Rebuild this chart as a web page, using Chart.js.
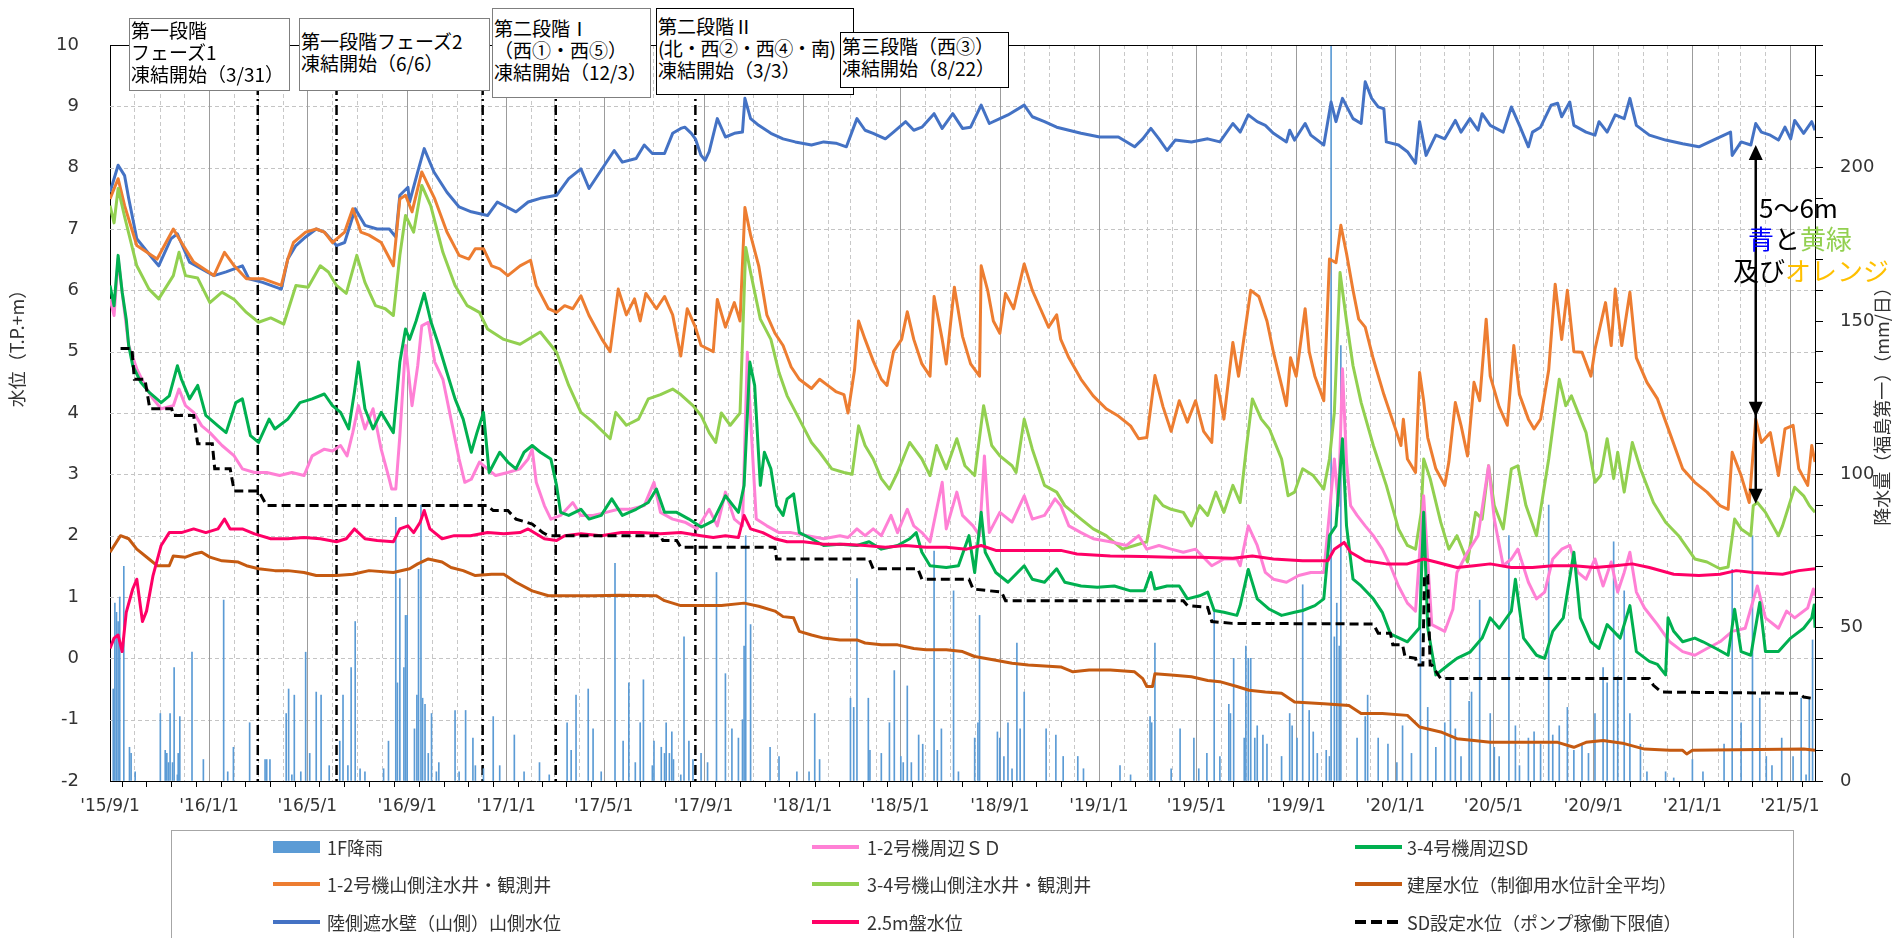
<!DOCTYPE html>
<html lang="ja">
<head>
<meta charset="utf-8">
<title>水位の推移</title>
<script src="https://cdn.jsdelivr.net/npm/chart.js@4.4.1/dist/chart.umd.min.js"></script>
<style>
  html, body { margin: 0; padding: 0; background: #fff; }
  #wrap { position: relative; width: 1893px; height: 938px; overflow: hidden;
          font-family: "Noto Sans CJK JP", "Noto Sans", sans-serif; color: #000; }
  #chartBox { position: absolute; left: 0; top: 0; width: 1893px; height: 938px; }
  .note { position: absolute; box-sizing: border-box; background: #fff; border: 1px solid #7f7f7f;
          font-size: 19px; line-height: 22px; white-space: nowrap; padding-left: 1px; }
  .note.dark { border-color: #000; }
  .tight { letter-spacing: -0.6px; }
  .gap { position: absolute; font-size: 26px; line-height: 32px; white-space: nowrap; }
  #legendBox { position: absolute; left: 171px; top: 830px; width: 1623px; height: 120px;
               box-sizing: border-box; border: 1px solid #a6a6a6; }
  .lg-sw { position: absolute; width: 47px; }
  .lg-tx { position: absolute; font-size: 18px; line-height: 24px; white-space: nowrap; color: #333; }
</style>
</head>
<body>
<div id="wrap">
  <div id="chartBox"><canvas id="levelChart"></canvas></div>

  <div class="note" style="left:129px;top:18px;width:161px;height:73px;">第一段階<br>フェーズ1<br>凍結開始（3/31）</div>
  <div class="note" style="left:299px;top:18px;width:191px;height:73px;padding-top:11px;">第一段階フェーズ2<br>凍結開始（6/6）</div>
  <div class="note" style="left:492px;top:8px;width:159px;height:90px;padding-top:8px;">第二段階Ⅰ<br>（西①・西⑤）<br>凍結開始（12/3）</div>
  <div class="note dark" style="left:656px;top:8px;width:198px;height:87px;padding-top:6px;">第二段階Ⅱ<br><span class="tight">(北・西②・西④・南)</span><br>凍結開始（3/3）</div>
  <div class="note dark" style="left:840px;top:32px;width:169px;height:56px;padding-top:2px;">第三段階（西③）<br>凍結開始（8/22）</div>

  <div class="gap" style="left:1759px;top:191px;">5～6m</div>
  <div class="gap" style="left:1748px;top:222px;"><span style="color:#0000ff">青</span>と<span style="color:#92d050">黄緑</span></div>
  <div class="gap" style="left:1733px;top:254px;">及び<span style="color:#ffc000">オレンジ</span></div>

  <div id="legendBox"></div>
</div>

<script>
// ======== Data (x = days since 2015/9/1) ========
const dayMax = 2100;
const levelTicks = [-2, -1, 0, 1, 2, 3, 4, 5, 6, 7, 8, 9, 10];
const rainTicks = [0, 10, 20, 30, 40, 50, 60, 70, 80, 90, 100, 110, 120, 130, 140, 150, 160, 170, 180, 190, 200, 210, 220, 230, 240];
const labelMonths = [1, 5, 9];
const freezeDays = [182, 279, 459, 549, 721];
const arrowDay = 2027;
const arrowLevels = [8.37, 3.94, 2.52];

const rain = [[4,30],[6,58],[8,55],[10,52],[12,60],[17,70],[24,11],[26,9],[31,3],[62,22],[68,10],[70,9],[72,6],[74,22],[77,6],[79,37],[83,2],[84,9],[86,21],[101,42],[115,7],[140,59],[145,3],[152,11],[172,19],[191,7],[193,7],[197,7],[217,22],[220,30],[224,2],[227,28],[235,3],[241,42],[246,9],[254,29],[260,28],[270,5],[283,13],[287,28],[293,5],[297,37],[302,52],[308,4],[314,3],[337,4],[343,13],[352,86],[354,32],[357,66],[362,37],[364,54],[366,54],[375,17],[378,28],[380,69],[383,90],[385,27],[388,25],[392,9],[396,22],[402,3],[405,6],[425,23],[430,3],[438,23],[447,14],[450,5],[460,4],[472,21],[480,5],[498,15],[510,3],[529,6],[541,2],[563,19],[568,10],[574,28],[589,30],[595,17],[605,3],[622,71],[632,13],[639,32],[647,6],[653,19],[657,33],[668,5],[670,13],[679,11],[683,9],[685,19],[689,9],[692,16],[694,7],[703,2],[707,47],[713,13],[718,7],[728,9],[736,6],[747,68],[758,35],[766,17],[774,14],[779,20],[781,44],[783,80],[789,51],[813,11],[824,8],[846,3],[861,3],[868,22],[874,7],[912,27],[916,24],[920,66],[934,27],[936,10],[950,9],[960,19],[966,36],[974,8],[977,6],[982,31],[987,6],[996,15],[1001,12],[1015,75],[1019,10],[1024,17],[1039,62],[1045,3],[1065,14],[1069,19],[1071,54],[1093,16],[1096,14],[1101,8],[1106,19],[1111,4],[1117,45],[1121,17],[1126,29],[1153,17],[1165,15],[1174,8],[1192,8],[1199,4],[1244,5],[1257,2],[1281,21],[1283,19],[1287,45],[1307,4],[1318,17],[1335,14],[1341,4],[1351,9],[1360,55],[1367,8],[1378,25],[1380,22],[1384,40],[1397,14],[1399,44],[1402,40],[1405,40],[1410,14],[1413,18],[1420,15],[1425,12],[1443,8],[1453,22],[1456,18],[1462,14],[1469,64],[1477,23],[1482,16],[1487,9],[1498,10],[1502,8],[1504,240],[1508,47],[1511,58],[1514,44],[1516,142],[1536,14],[1546,21],[1549,28],[1562,14],[1574,12],[1585,6],[1592,18],[1603,9],[1614,76],[1623,24],[1633,11],[1644,19],[1651,33],[1657,17],[1664,8],[1674,26],[1677,29],[1687,59],[1700,22],[1705,11],[1711,8],[1723,80],[1731,18],[1736,5],[1747,14],[1754,16],[1762,12],[1772,90],[1777,15],[1785,18],[1795,24],[1803,10],[1813,12],[1821,9],[1829,22],[1839,37],[1844,32],[1852,78],[1857,34],[1865,62],[1872,22],[1885,12],[1893,3],[1916,3],[1926,1],[1949,7],[1962,3],[1988,12],[1998,69],[2009,19],[2023,80],[2032,27],[2040,8],[2047,5],[2059,14],[2073,8],[2083,27],[2089,2],[2093,27],[2097,46]];

const sd12 = [[0,5.86],[5,5.59],[10,6.51],[23,5.1],[33,4.72],[43,4.45],[53,4.23],[63,4.07],[78,4.12],[85,4.39],[93,4.12],[103,4.01],[113,3.79],[123,3.68],[138,3.47],[153,3.3],[163,3.09],[178,3.03],[193,3.03],[209,2.98],[224,3.03],[239,2.98],[249,3.3],[264,3.41],[274,3.38],[284,3.47],[292,3.3],[299,3.68],[306,4.12],[314,3.74],[324,4.07],[334,3.41],[344,2.92],[347,2.76],[352,2.76],[357,3.63],[364,5.1],[372,4.12],[379,4.77],[384,5.42],[392,5.48],[400,4.83],[410,4.55],[420,3.9],[430,3.25],[437,2.87],[445,2.92],[455,3.2],[465,3.09],[475,2.98],[490,3.03],[505,3.09],[515,3.25],[520,3.41],[525,2.87],[535,2.49],[543,2.27],[555,2.33],[570,2.54],[580,2.33],[595,2.33],[611,2.38],[626,2.43],[641,2.43],[658,2.49],[670,2.87],[678,2.38],[693,2.27],[708,2.22],[723,2.11],[738,2.43],[748,2.16],[758,2.71],[769,2.27],[779,2.16],[785,4.99],[789,3.9],[796,2.27],[809,2.16],[824,2.05],[839,2.05],[859,2.0],[879,1.95],[899,2.0],[909,1.97],[920,2.11],[930,2.0],[940,2.11],[950,2.0],[962,2.33],[970,2.05],[982,2.43],[990,2.16],[1000,2.05],[1010,1.9],[1025,2.87],[1030,2.11],[1043,2.71],[1050,2.33],[1063,2.16],[1071,2.0],[1077,3.3],[1083,2.05],[1096,2.38],[1111,2.22],[1126,2.65],[1136,2.27],[1151,2.33],[1164,2.6],[1171,2.49],[1181,2.16],[1196,2.05],[1211,1.95],[1232,1.9],[1252,1.84],[1267,2.0],[1277,1.78],[1292,1.84],[1307,1.78],[1322,1.73],[1337,1.78],[1357,1.51],[1372,1.62],[1388,1.62],[1392,1.51],[1402,2.16],[1413,1.84],[1423,1.4],[1433,1.29],[1449,1.24],[1464,1.35],[1479,1.4],[1495,1.4],[1502,2.38],[1508,3.25],[1513,2.49],[1518,4.72],[1523,3.2],[1528,2.49],[1536,2.33],[1546,2.16],[1556,2.0],[1567,1.78],[1577,1.51],[1587,1.18],[1598,0.9],[1608,0.77],[1618,2.65],[1628,0.55],[1644,0.44],[1654,0.8],[1659,1.4],[1672,1.73],[1685,2.0],[1698,3.14],[1705,2.27],[1716,1.51],[1726,1.62],[1734,1.78],[1747,1.24],[1757,0.97],[1767,1.08],[1777,1.62],[1788,1.78],[1798,1.84],[1808,1.4],[1818,1.29],[1829,1.62],[1839,1.18],[1849,1.57],[1857,1.08],[1865,1.4],[1872,1.73],[1880,1.08],[1890,0.82],[1906,0.55],[1921,0.27],[1937,0.11],[1952,0.05],[1967,0.16],[1983,0.27],[1998,0.44],[2014,0.49],[2029,1.18],[2039,0.66],[2055,0.49],[2065,0.77],[2075,0.66],[2091,0.82],[2098,1.13],[2100,1.02]];

const sd34 = [[0,6.08],[5,5.75],[10,6.57],[15,5.97],[20,5.53],[23,5.1],[28,4.77],[38,4.5],[48,4.34],[63,4.17],[73,4.28],[83,4.77],[88,4.55],[98,4.23],[108,4.45],[118,3.96],[133,3.79],[143,3.68],[155,4.17],[163,4.23],[173,3.63],[183,3.52],[196,3.9],[203,3.74],[219,3.9],[234,4.17],[249,4.23],[264,4.31],[274,4.12],[284,4.01],[294,3.74],[301,4.34],[306,4.83],[314,4.07],[324,3.74],[334,4.01],[349,3.68],[357,4.83],[364,5.37],[369,5.2],[377,5.5],[387,5.95],[395,5.5],[405,5.1],[415,4.66],[425,4.23],[435,3.9],[445,3.36],[452,3.68],[460,4.01],[467,3.03],[480,3.36],[490,3.2],[500,3.09],[510,3.36],[520,3.47],[530,3.36],[543,3.25],[550,2.82],[555,2.38],[565,2.33],[580,2.43],[590,2.27],[605,2.33],[618,2.6],[631,2.33],[648,2.43],[663,2.54],[673,2.76],[683,2.38],[698,2.38],[713,2.27],[728,2.14],[743,2.24],[758,2.65],[774,2.38],[781,2.82],[788,4.83],[794,4.45],[801,2.82],[806,3.36],[814,3.09],[821,2.49],[829,2.33],[834,2.6],[842,2.68],[849,2.05],[864,1.95],[879,1.84],[899,1.86],[920,1.84],[935,1.9],[950,1.78],[970,1.84],[985,1.95],[993,2.05],[1000,1.73],[1010,1.51],[1030,1.48],[1045,1.51],[1058,2.0],[1065,1.4],[1073,2.38],[1078,1.73],[1091,1.4],[1106,1.24],[1126,1.51],[1136,1.29],[1151,1.24],[1166,1.46],[1176,1.24],[1196,1.18],[1216,1.16],[1237,1.18],[1257,1.1],[1274,1.1],[1282,1.4],[1287,1.13],[1302,1.18],[1317,1.18],[1327,0.97],[1342,1.02],[1352,1.08],[1360,0.78],[1372,0.75],[1388,0.7],[1392,0.86],[1402,1.45],[1413,0.97],[1428,0.8],[1443,0.7],[1459,0.75],[1469,0.78],[1484,0.86],[1495,0.97],[1502,2.0],[1510,2.16],[1518,3.58],[1523,2.16],[1531,1.29],[1541,1.18],[1556,0.97],[1567,0.75],[1577,0.4],[1598,0.27],[1613,0.5],[1618,2.38],[1623,0.5],[1633,-0.27],[1649,-0.1],[1659,0.0],[1675,0.1],[1690,0.33],[1700,0.66],[1711,0.49],[1726,0.77],[1731,1.29],[1741,0.33],[1757,0.05],[1767,0.0],[1777,0.44],[1790,0.66],[1803,1.73],[1811,0.66],[1824,0.27],[1834,0.16],[1844,0.55],[1860,0.33],[1872,0.86],[1880,0.11],[1896,-0.05],[1906,-0.1],[1916,-0.27],[1919,0.66],[1926,0.44],[1937,0.27],[1952,0.33],[1962,0.27],[1978,0.16],[1993,0.05],[2001,0.8],[2009,0.11],[2021,0.05],[2032,0.91],[2039,0.11],[2055,0.11],[2070,0.33],[2086,0.49],[2096,0.66],[2099,0.87],[2100,0.5]];

const well12 = [[0,7.49],[10,7.82],[18,7.38],[33,6.73],[58,6.51],[78,7.0],[88,6.78],[103,6.46],[128,6.24],[141,6.62],[153,6.4],[168,6.19],[188,6.19],[211,6.08],[219,6.51],[226,6.78],[241,6.95],[254,7.0],[264,6.95],[274,6.78],[289,6.95],[299,7.33],[309,6.95],[319,6.9],[334,6.78],[349,6.4],[357,7.49],[364,7.55],[372,7.28],[384,7.93],[400,7.49],[415,6.95],[430,6.57],[442,6.51],[450,6.68],[460,6.68],[470,6.4],[480,6.35],[490,6.24],[505,6.4],[518,6.49],[525,6.08],[540,5.7],[550,5.64],[560,5.75],[570,5.7],[580,5.91],[590,5.59],[606,5.2],[616,5.0],[626,6.02],[636,5.6],[646,5.86],[653,5.5],[660,5.95],[673,5.7],[683,5.9],[693,5.6],[703,4.93],[711,5.7],[721,5.4],[728,5.1],[743,5.0],[748,5.85],[758,5.4],[769,5.8],[776,5.5],[782,7.35],[789,6.9],[799,6.4],[809,5.6],[819,5.3],[829,5.1],[839,4.75],[849,4.55],[864,4.4],[874,4.55],[884,4.45],[894,4.35],[904,4.3],[909,4.0],[917,4.7],[922,5.5],[930,5.2],[940,4.85],[950,4.55],[957,4.45],[965,5.0],[975,5.2],[982,5.65],[990,5.2],[1000,4.8],[1010,4.6],[1015,5.9],[1025,5.2],[1030,4.8],[1040,6.05],[1050,5.25],[1060,4.8],[1071,4.6],[1073,6.4],[1081,6.0],[1088,5.5],[1096,5.3],[1103,5.95],[1113,5.7],[1126,6.43],[1136,6.0],[1146,5.7],[1156,5.4],[1166,5.6],[1171,5.2],[1181,4.9],[1196,4.55],[1211,4.28],[1227,4.07],[1242,3.95],[1257,3.79],[1267,3.58],[1277,3.6],[1287,4.61],[1297,4.1],[1307,3.7],[1317,4.2],[1327,3.85],[1337,4.2],[1347,3.7],[1357,3.52],[1362,4.61],[1372,3.9],[1383,5.15],[1390,4.6],[1405,6.0],[1415,5.9],[1425,5.5],[1433,4.99],[1443,4.45],[1449,4.12],[1454,4.9],[1461,4.6],[1472,5.7],[1477,5.0],[1484,4.6],[1495,4.2],[1502,6.51],[1510,6.45],[1516,7.06],[1523,6.6],[1531,6.0],[1538,5.53],[1546,5.4],[1556,4.88],[1569,4.3],[1582,3.79],[1590,3.47],[1593,3.9],[1598,3.25],[1608,3.03],[1613,4.66],[1618,4.2],[1623,3.6],[1633,3.09],[1644,2.82],[1649,3.2],[1657,4.17],[1664,3.8],[1672,3.3],[1680,4.5],[1687,4.2],[1695,5.53],[1700,4.6],[1711,4.1],[1721,3.8],[1729,5.1],[1736,4.3],[1747,3.9],[1754,3.74],[1762,3.9],[1772,4.7],[1780,6.1],[1788,5.2],[1795,6.0],[1803,5.0],[1813,4.99],[1824,4.6],[1829,5.04],[1842,5.8],[1849,5.1],[1854,6.02],[1862,5.1],[1872,5.97],[1880,4.9],[1893,4.5],[1906,4.23],[1921,3.68],[1937,3.09],[1952,2.87],[1967,2.71],[1983,2.49],[1993,2.43],[1998,3.36],[2009,2.98],[2019,2.54],[2027,3.9],[2034,3.52],[2045,3.68],[2055,2.98],[2063,3.74],[2073,3.8],[2080,3.09],[2091,2.82],[2096,3.47],[2100,3.2]];

const well34 = [[0,7.38],[5,7.1],[10,7.66],[18,7.2],[33,6.4],[48,6.02],[60,5.86],[78,6.24],[85,6.62],[93,6.24],[108,6.2],[123,5.8],[138,5.97],[153,5.85],[168,5.64],[183,5.48],[198,5.55],[214,5.45],[229,6.08],[244,6.05],[259,6.4],[269,6.3],[279,6.08],[291,5.95],[304,6.57],[314,6.13],[327,5.75],[339,5.7],[349,5.59],[357,6.57],[364,7.22],[374,6.95],[384,7.71],[395,7.38],[410,6.62],[425,6.08],[440,5.75],[455,5.64],[465,5.37],[485,5.2],[505,5.12],[530,5.32],[550,4.99],[565,4.45],[580,4.01],[595,3.85],[616,3.58],[623,4.01],[636,3.8],[651,3.9],[663,4.23],[678,4.3],[693,4.39],[703,4.3],[718,4.12],[728,3.96],[738,3.68],[746,3.52],[753,4.0],[764,3.8],[776,4.0],[783,6.7],[789,6.29],[801,5.53],[814,5.2],[824,4.66],[834,4.28],[849,3.9],[864,3.52],[874,3.36],[889,3.09],[904,3.03],[914,3.0],[922,3.79],[930,3.47],[940,3.25],[950,2.93],[960,2.76],[970,3.03],[980,3.36],[985,3.52],[1000,3.25],[1010,2.98],[1018,3.47],[1030,3.09],[1043,3.58],[1053,3.14],[1065,2.98],[1076,4.12],[1086,3.47],[1096,3.3],[1111,3.14],[1116,3.03],[1126,3.9],[1136,3.41],[1151,2.82],[1166,2.71],[1176,2.49],[1196,2.27],[1211,2.11],[1227,2.0],[1247,1.78],[1262,1.84],[1277,1.9],[1287,2.65],[1297,2.49],[1307,2.43],[1322,2.38],[1332,2.16],[1342,2.49],[1352,2.33],[1362,2.71],[1372,2.38],[1383,2.82],[1392,2.54],[1400,3.47],[1407,4.23],[1418,3.9],[1428,3.74],[1443,3.25],[1451,2.65],[1459,2.71],[1469,3.09],[1482,2.98],[1495,2.76],[1502,3.25],[1508,4.01],[1515,6.29],[1523,5.5],[1531,4.77],[1541,4.17],[1556,3.47],[1572,2.82],[1587,2.11],[1598,1.84],[1608,1.78],[1615,2.38],[1618,3.25],[1626,2.93],[1639,2.22],[1649,1.78],[1659,2.0],[1672,1.57],[1682,2.38],[1690,2.27],[1698,3.14],[1705,2.49],[1716,2.11],[1726,3.09],[1734,3.14],[1744,2.49],[1757,2.0],[1772,3.25],[1785,4.55],[1793,4.12],[1800,4.28],[1818,3.68],[1829,2.87],[1836,2.98],[1844,3.58],[1852,2.93],[1857,3.36],[1865,2.71],[1875,3.52],[1885,3.09],[1901,2.54],[1916,2.22],[1932,2.0],[1952,1.62],[1967,1.57],[1983,1.46],[1993,1.49],[2001,2.27],[2009,2.11],[2021,2.0],[2024,2.49],[2029,2.54],[2039,2.38],[2055,2.0],[2060,2.16],[2075,2.79],[2086,2.65],[2093,2.49],[2100,2.38]];

const building = [[0,1.73],[13,2.0],[23,1.95],[33,1.78],[48,1.62],[58,1.51],[73,1.51],[78,1.67],[93,1.65],[103,1.7],[113,1.73],[123,1.65],[138,1.59],[158,1.57],[168,1.51],[183,1.46],[203,1.43],[219,1.43],[239,1.4],[254,1.35],[279,1.35],[299,1.37],[319,1.43],[349,1.4],[369,1.46],[379,1.54],[392,1.62],[409,1.57],[420,1.48],[435,1.43],[450,1.35],[470,1.37],[485,1.37],[500,1.24],[520,1.1],[540,1.02],[560,1.02],[595,1.02],[628,1.03],[673,1.02],[683,0.94],[703,0.86],[753,0.86],[781,0.9],[799,0.85],[819,0.77],[829,0.68],[842,0.66],[849,0.44],[864,0.38],[879,0.33],[899,0.3],[920,0.3],[930,0.25],[950,0.22],[970,0.22],[990,0.16],[1005,0.14],[1030,0.14],[1050,0.11],[1065,0.03],[1091,-0.03],[1111,-0.08],[1131,-0.11],[1171,-0.14],[1186,-0.22],[1206,-0.19],[1232,-0.19],[1262,-0.22],[1272,-0.33],[1277,-0.46],[1284,-0.46],[1287,-0.25],[1307,-0.27],[1332,-0.3],[1352,-0.36],[1367,-0.38],[1388,-0.46],[1403,-0.52],[1423,-0.55],[1443,-0.57],[1459,-0.71],[1495,-0.74],[1526,-0.77],[1541,-0.9],[1567,-0.9],[1598,-0.93],[1613,-1.12],[1639,-1.2],[1659,-1.31],[1680,-1.34],[1700,-1.37],[1783,-1.37],[1803,-1.45],[1818,-1.37],[1839,-1.34],[1865,-1.39],[1890,-1.48],[1921,-1.5],[1937,-1.5],[1942,-1.56],[1949,-1.5],[2086,-1.48],[2100,-1.5]];

const landside = [[0,7.6],[10,8.04],[18,7.87],[23,7.5],[33,6.84],[53,6.51],[60,6.4],[75,6.84],[83,6.92],[98,6.46],[113,6.35],[128,6.24],[143,6.3],[163,6.4],[171,6.19],[188,6.13],[211,6.02],[219,6.51],[229,6.73],[241,6.87],[254,7.0],[264,6.95],[279,6.73],[289,6.78],[302,7.33],[314,7.06],[329,7.0],[344,7.0],[352,6.87],[357,7.55],[367,7.68],[369,7.44],[379,7.93],[387,8.31],[399,7.93],[415,7.6],[430,7.36],[445,7.28],[465,7.22],[477,7.44],[500,7.28],[515,7.44],[530,7.5],[550,7.55],[565,7.82],[580,7.98],[590,7.66],[621,8.28],[631,8.09],[648,8.15],[658,8.37],[668,8.23],[683,8.23],[693,8.56],[703,8.64],[708,8.66],[716,8.56],[721,8.47],[728,8.2],[733,8.12],[738,8.26],[748,8.8],[758,8.5],[769,8.56],[779,8.58],[782,9.13],[789,8.8],[799,8.69],[814,8.56],[829,8.47],[844,8.42],[864,8.37],[879,8.42],[894,8.4],[907,8.34],[920,8.8],[930,8.61],[940,8.56],[955,8.47],[965,8.58],[980,8.75],[990,8.61],[1000,8.66],[1015,8.88],[1025,8.64],[1038,8.88],[1050,8.64],[1060,8.66],[1073,9.02],[1083,8.72],[1096,8.8],[1106,8.86],[1126,9.02],[1136,8.83],[1151,8.75],[1166,8.66],[1181,8.61],[1196,8.56],[1219,8.5],[1242,8.5],[1262,8.34],[1272,8.47],[1282,8.64],[1292,8.47],[1302,8.28],[1312,8.45],[1332,8.42],[1352,8.47],[1367,8.42],[1383,8.72],[1392,8.58],[1402,8.86],[1413,8.75],[1423,8.69],[1433,8.56],[1449,8.42],[1453,8.61],[1459,8.45],[1472,8.72],[1479,8.53],[1495,8.37],[1504,9.07],[1510,8.75],[1518,9.13],[1531,8.8],[1541,8.72],[1546,9.4],[1554,9.13],[1562,8.99],[1569,8.96],[1572,8.42],[1587,8.37],[1598,8.26],[1608,8.07],[1613,8.75],[1621,8.2],[1633,8.53],[1644,8.47],[1657,8.77],[1664,8.58],[1675,8.8],[1685,8.61],[1690,8.88],[1700,8.69],[1716,8.58],[1726,8.99],[1736,8.69],[1747,8.34],[1752,8.58],[1762,8.66],[1775,9.02],[1783,9.05],[1788,8.83],[1798,9.07],[1803,8.69],[1818,8.58],[1829,8.53],[1834,8.75],[1844,8.58],[1854,8.86],[1865,8.8],[1872,9.13],[1880,8.69],[1896,8.53],[1916,8.45],[1937,8.39],[1957,8.34],[1978,8.47],[1996,8.58],[1998,8.2],[2009,8.42],[2021,8.37],[2027,8.72],[2034,8.58],[2045,8.53],[2055,8.45],[2063,8.66],[2070,8.47],[2075,8.77],[2086,8.56],[2096,8.75],[2100,8.61]];

const plain25 = [[0,0.16],[5,0.33],[10,0.38],[15,0.11],[20,0.75],[28,1.13],[33,1.29],[40,0.6],[45,0.77],[53,1.35],[63,1.84],[73,2.05],[88,2.05],[103,2.11],[118,2.05],[133,2.11],[141,2.27],[148,2.11],[163,2.11],[178,2.03],[198,1.95],[219,1.95],[239,1.97],[259,1.95],[279,1.9],[291,1.95],[301,2.11],[314,1.95],[329,1.92],[349,1.9],[357,2.11],[367,2.16],[374,2.05],[382,2.22],[387,2.41],[394,2.11],[409,1.95],[424,2.0],[444,2.0],[465,2.05],[485,2.03],[505,2.05],[515,2.11],[535,1.95],[550,1.92],[560,2.0],[580,2.03],[605,2.0],[630,2.05],[653,2.05],[678,2.03],[703,2.05],[728,2.0],[743,1.97],[758,2.0],[774,1.97],[781,2.33],[789,2.11],[804,2.05],[819,1.95],[834,1.9],[854,1.9],[879,1.86],[904,1.86],[930,1.84],[955,1.81],[980,1.84],[1005,1.81],[1030,1.81],[1055,1.78],[1073,1.84],[1091,1.76],[1121,1.76],[1151,1.76],[1171,1.76],[1191,1.7],[1232,1.67],[1272,1.66],[1307,1.65],[1342,1.65],[1383,1.63],[1407,1.67],[1433,1.62],[1469,1.59],[1500,1.59],[1508,1.78],[1520,1.89],[1528,1.73],[1546,1.59],[1572,1.54],[1598,1.54],[1618,1.62],[1633,1.57],[1659,1.48],[1680,1.51],[1700,1.54],[1726,1.48],[1752,1.48],[1777,1.51],[1803,1.51],[1829,1.48],[1854,1.51],[1875,1.54],[1896,1.48],[1926,1.37],[1957,1.35],[1983,1.37],[2003,1.43],[2024,1.4],[2060,1.37],[2080,1.43],[2100,1.46]];

const sdSetting = [[13,5.05],[27,5.05],[30,4.55],[43,4.55],[49,4.07],[76,4.07],[78,3.96],[103,3.96],[108,3.5],[126,3.5],[129,3.09],[148,3.09],[153,2.73],[183,2.73],[193,2.49],[465,2.49],[472,2.41],[490,2.41],[500,2.27],[520,2.19],[533,2.05],[540,2.0],[678,2.0],[681,1.92],[698,1.92],[703,1.81],[819,1.81],[821,1.62],[935,1.62],[940,1.46],[995,1.46],[1000,1.29],[1058,1.29],[1063,1.13],[1098,1.08],[1103,0.94],[1322,0.94],[1327,0.86],[1352,0.83],[1357,0.6],[1382,0.57],[1556,0.56],[1562,0.41],[1577,0.41],[1580,0.22],[1592,0.22],[1595,0.03],[1608,0.0],[1610,-0.11],[1617,-0.11],[1619,1.35],[1623,1.35],[1626,-0.11],[1628,-0.11],[1639,-0.33],[1896,-0.33],[1901,-0.44],[1911,-0.55],[2080,-0.57],[2086,-0.63],[2100,-0.66]];

// legend order as in the picture (row by row, three columns)
const legendItems = [
  { text: "1F降雨", color: "#5b9bd5", kind: "bar" },
  { text: "1-2号機周辺ＳＤ", color: "#ff80d5", kind: "line" },
  { text: "3-4号機周辺SD", color: "#00b050", kind: "line" },
  { text: "1-2号機山側注水井・観測井", color: "#ed7d31", kind: "line" },
  { text: "3-4号機山側注水井・観測井", color: "#92d050", kind: "line" },
  { text: "建屋水位（制御用水位計全平均）", color: "#c55a11", kind: "line" },
  { text: "陸側遮水壁（山側）山側水位", color: "#4472c4", kind: "line" },
  { text: "2.5m盤水位", color: "#ff0066", kind: "line" },
  { text: "SD設定水位（ポンプ稼働下限値）", color: "#000000", kind: "dash" },
];

// ======== Month ticks ========
const startMs = Date.UTC(2015, 8, 1);
const monthTicks = [];
for (let i = 0; i <= 69; i++) {
  const dt = new Date(Date.UTC(2015, 8 + i, 1));
  monthTicks.push({
    day: Math.round((dt.getTime() - startMs) / 86400000),
    y: dt.getUTCFullYear(),
    m: dt.getUTCMonth() + 1,
  });
}
const monthLabel = new Map();
monthTicks.forEach((t) => {
  if (labelMonths.includes(t.m)) monthLabel.set(t.day, "'" + String(t.y).slice(2) + "/" + t.m + "/1");
});

// ======== Legend (HTML) ========
function buildLegend() {
  const wrap = document.getElementById("wrap");
  const swLeft = [273, 812, 1355];
  const txLeft = [327, 867, 1407];
  const rowY = [847, 884, 922];
  legendItems.forEach((item, i) => {
    const col = i % 3, row = Math.floor(i / 3);
    const sw = document.createElement("div");
    sw.className = "lg-sw";
    sw.style.left = swLeft[col] + "px";
    if (item.kind === "bar") {
      sw.style.top = rowY[row] - 6 + "px";
      sw.style.height = "12px";
      sw.style.background = item.color;
    } else if (item.kind === "dash") {
      sw.style.top = rowY[row] - 2 + "px";
      sw.style.height = "4px";
      sw.style.background = "repeating-linear-gradient(to right,#000 0 11px,transparent 11px 16px)";
    } else {
      sw.style.top = rowY[row] - 2 + "px";
      sw.style.height = "4px";
      sw.style.background = item.color;
    }
    wrap.appendChild(sw);
    const tx = document.createElement("div");
    tx.className = "lg-tx";
    tx.style.left = txLeft[col] + "px";
    tx.style.top = rowY[row] - 12 + "px";
    tx.textContent = item.text;
    wrap.appendChild(tx);
  });
}

// ======== Decorations: grid, freeze lines, arrow, axis titles ========
const decor = {
  id: "decor",
  beforeDatasetsDraw(chart) {
    const { ctx, chartArea: a } = chart;
    const x = chart.scales.x, y = chart.scales.y;
    ctx.save();
    ctx.lineWidth = 1;
    ctx.strokeStyle = "#c4c4c4";
    ctx.setLineDash([4, 3]);
    levelTicks.forEach((v) => {
      if (v === levelTicks[0] || v === levelTicks[levelTicks.length - 1]) return;
      const py = Math.round(y.getPixelForValue(v)) + 0.5;
      ctx.beginPath(); ctx.moveTo(a.left, py); ctx.lineTo(a.right, py); ctx.stroke();
    });
    monthTicks.forEach((t) => {
      if (t.day <= 0 || t.day >= dayMax) return;
      const px = Math.round(x.getPixelForValue(t.day)) + 0.5;
      const major = labelMonths.includes(t.m);
      ctx.strokeStyle = major ? "#9c9c9c" : "#c8c8c8";
      ctx.setLineDash(major ? [] : [4, 3]);
      ctx.beginPath(); ctx.moveTo(px, a.top); ctx.lineTo(px, a.bottom); ctx.stroke();
    });
    // freeze start lines
    ctx.strokeStyle = "#000";
    ctx.lineWidth = 2.5;
    ctx.setLineDash([10, 4, 2, 4]);
    freezeDays.forEach((d) => {
      const px = x.getPixelForValue(d);
      ctx.beginPath(); ctx.moveTo(px, a.top); ctx.lineTo(px, a.bottom); ctx.stroke();
    });
    ctx.restore();
  },
  afterDatasetsDraw(chart) {
    const { ctx, chartArea: a } = chart;
    const x = chart.scales.x, y = chart.scales.y;
    ctx.save();
    ctx.strokeStyle = "#000";
    ctx.lineWidth = 1;
    ctx.setLineDash([]);
    const ty = Math.round(a.top) + 0.5;
    ctx.beginPath(); ctx.moveTo(a.left, ty); ctx.lineTo(a.right, ty); ctx.stroke();

    // 5~6m arrow
    const ax = x.getPixelForValue(arrowDay);
    const [top, mid, bot] = arrowLevels.map((v) => y.getPixelForValue(v));
    ctx.lineWidth = 2.5;
    ctx.beginPath(); ctx.moveTo(ax, top + 10); ctx.lineTo(ax, bot - 10); ctx.stroke();
    ctx.fillStyle = "#000";
    const head = (tipY, dir) => {
      ctx.beginPath();
      ctx.moveTo(ax, tipY);
      ctx.lineTo(ax - 7, tipY - dir * 15);
      ctx.lineTo(ax + 7, tipY - dir * 15);
      ctx.closePath();
      ctx.fill();
    };
    head(top, -1);
    head(mid, 1);
    head(bot, 1);
    ctx.restore();
  },
  afterDraw(chart) {
    const { ctx } = chart;
    ctx.save();
    ctx.fillStyle = "#333";
    ctx.font = '18px "Noto Sans CJK JP", sans-serif';
    ctx.textAlign = "center";
    ctx.textBaseline = "middle";
    ctx.translate(17, 344);
    ctx.rotate(-Math.PI / 2);
    ctx.fillText("水位（T.P.+m）", 0, 0);
    ctx.restore();
    ctx.save();
    ctx.fillStyle = "#333";
    ctx.font = '18px "Noto Sans CJK JP", sans-serif';
    ctx.textAlign = "center";
    ctx.textBaseline = "middle";
    ctx.translate(1882, 402);
    ctx.rotate(-Math.PI / 2);
    ctx.fillText("降水量（福島第一）（mm/日）", 0, 0);
    ctx.restore();
  },
};

// ======== Chart ========
function lineSet(label, pts, color, extra) {
  return Object.assign(
    {
      type: "line",
      label,
      data: pts.map((p) => ({ x: p[0], y: p[1] })),
      borderColor: color,
      backgroundColor: color,
      borderWidth: 3,
      borderJoinStyle: "round",
      pointRadius: 0,
      tension: 0,
      fill: false,
      yAxisID: "y",
    },
    extra || {}
  );
}

function initLevelChart() {
  buildLegend();
  const tickFont = { family: "DejaVu Sans", size: 18 };
  const ctx = document.getElementById("levelChart").getContext("2d");
  window.levelChart = new Chart(ctx, {
    type: "line",
    data: {
      datasets: [
        lineSet("SD設定水位（ポンプ稼働下限値）", sdSetting, "#000000", { borderDash: [9, 5], borderJoinStyle: "miter" }),
        lineSet("2.5m盤水位", plain25, "#ff0066"),
        lineSet("3-4号機周辺SD", sd34, "#00b050"),
        lineSet("1-2号機周辺ＳＤ", sd12, "#ff80d5"),
        lineSet("建屋水位（制御用水位計全平均）", building, "#c55a11"),
        lineSet("3-4号機山側注水井・観測井", well34, "#92d050"),
        lineSet("1-2号機山側注水井・観測井", well12, "#ed7d31"),
        lineSet("陸側遮水壁（山側）山側水位", landside, "#4472c4"),
        {
          type: "bar",
          label: "1F降雨",
          data: rain.map((p) => ({ x: p[0], y: p[1] })),
          backgroundColor: "#5b9bd5",
          borderWidth: 0,
          barThickness: 1,
          yAxisID: "y2",
        },
      ],
    },
    options: {
      responsive: true,
      maintainAspectRatio: false,
      animation: false,
      devicePixelRatio: 1,
      events: [],
      layout: { padding: { top: 45, left: 0, right: 0, bottom: 0 } },
      plugins: { legend: { display: false }, tooltip: { enabled: false }, title: { display: false } },
      scales: {
        x: {
          type: "linear",
          min: 0,
          max: dayMax,
          offset: false,
          afterBuildTicks: (s) => { s.ticks = monthTicks.map((t) => ({ value: t.day })); },
          afterFit: (s) => { s.height = 157; },
          ticks: {
            autoSkip: false,
            maxRotation: 0,
            minRotation: 0,
            padding: 9,
            color: "#333",
            font: { family: "DejaVu Sans", size: 17 },
            callback: (v) => monthLabel.get(v) || "",
          },
          grid: { drawOnChartArea: false, drawTicks: true, tickLength: 6, tickColor: "#000" },
          border: { display: true, color: "#000", width: 1 },
        },
        y: {
          position: "left",
          min: -2,
          max: 10,
          afterBuildTicks: (s) => { s.ticks = levelTicks.map((v) => ({ value: v })); },
          afterFit: (s) => { s.width = 110; },
          ticks: { padding: 31, color: "#333", font: tickFont },
          grid: { display: false, drawTicks: false },
          border: { display: true, color: "#000", width: 1 },
        },
        y2: {
          position: "right",
          min: 0,
          max: 240,
          afterBuildTicks: (s) => { s.ticks = rainTicks.map((v) => ({ value: v })); },
          afterFit: (s) => { s.width = 78; },
          ticks: {
            padding: 17,
            color: "#333",
            font: tickFont,
            callback: (v) => (v % 50 === 0 ? v : ""),
          },
          grid: { drawOnChartArea: false, drawTicks: true, tickLength: 8, tickColor: "#000" },
          border: { display: true, color: "#000", width: 1 },
        },
      },
    },
    plugins: [decor],
  });
}

document.addEventListener("DOMContentLoaded", initLevelChart);
</script>
</body>
</html>
